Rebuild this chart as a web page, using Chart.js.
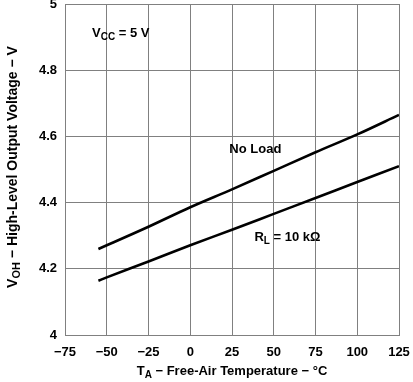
<!DOCTYPE html>
<html>
<head>
<meta charset="utf-8">
<script src="https://cdn.jsdelivr.net/npm/chart.js@4.4.1/dist/chart.umd.min.js"></script>
<style>
  html, body { margin: 0; padding: 0; background: #fff; }
  #wrap { width: 413px; height: 382px; }
</style>
</head>
<body>
<div id="wrap"><canvas id="voh-chart" width="413" height="382"></canvas></div>
<script>
// temperature points (°C)
const temps = [-55, -50, -25, 0, 25, 50, 75, 100, 125];
// V_OH, no load
const noLoad = [4.26, 4.271, 4.327, 4.386, 4.44, 4.496, 4.552, 4.606, 4.665];
// V_OH, RL = 10 kOhm
const rl10k = [4.164, 4.174, 4.222, 4.271, 4.318, 4.366, 4.414, 4.462, 4.51];

const xTicks = [-75, -50, -25, 0, 25, 50, 75, 100, 125];
const yTicks = [4, 4.2, 4.4, 4.6, 4.8, 5];

// text labels inside the plot: [main, subscript, rest, x, y]
const notes = [
    ['V', 'CC', ' = 5 V', -58.8, 4.912],
    ['No Load', '', '', 23.4, 4.562],
    ['R', 'L', ' = 10 k\u03A9', 38.4, 4.295]
];

const FAMILY = '"Liberation Sans", Arial, sans-serif';

function toPts(ys) {
    return temps.map((t, i) => ({ x: t, y: ys[i] }));
}

// draws "main" + subscript + "rest" starting at x, vertically centred on y
function drawSubText(ctx, parts, x, y, size) {
    const big = 'bold ' + size + 'px ' + FAMILY;
    const small = 'bold ' + Math.round(size * 0.75) + 'px ' + FAMILY;
    ctx.textBaseline = 'middle';
    ctx.textAlign = 'left';
    ctx.font = big;
    ctx.fillText(parts[0], x, y);
    let w = ctx.measureText(parts[0]).width;
    if (parts[1]) {
        ctx.font = small;
        ctx.fillText(parts[1], x + w, y + size * 0.3);
        w += ctx.measureText(parts[1]).width;
    }
    ctx.font = big;
    ctx.fillText(parts[2], x + w, y);
}

function widthOf(ctx, parts, size) {
    ctx.font = 'bold ' + size + 'px ' + FAMILY;
    let w = ctx.measureText(parts[0]).width + ctx.measureText(parts[2]).width;
    ctx.font = 'bold ' + Math.round(size * 0.75) + 'px ' + FAMILY;
    if (parts[1]) w += ctx.measureText(parts[1]).width;
    return w;
}

const labelsPlugin = {
    id: 'labels',
    afterDraw(chart) {
        const ctx = chart.ctx;
        const xs = chart.scales.x, ys = chart.scales.y;
        const area = chart.chartArea;
        ctx.save();
        ctx.fillStyle = '#000';

        notes.forEach(n => {
            drawSubText(ctx, n, xs.getPixelForValue(n[3]), ys.getPixelForValue(n[4]), 13);
        });

        // x axis title
        const xt = ['T', 'A', ' \u2212 Free-Air Temperature \u2212 \u00B0C'];
        const xw = widthOf(ctx, xt, 13);
        drawSubText(ctx, xt, (area.left + area.right) / 2 - xw / 2, 371, 13);

        // y axis title, rotated
        const yt = ['V', 'OH', ' \u2212 High-Level Output Voltage \u2212 V'];
        const yw = widthOf(ctx, yt, 14);
        ctx.translate(13, 167);
        ctx.rotate(-Math.PI / 2);
        drawSubText(ctx, yt, -yw / 2, 0, 14);
        ctx.restore();
    }
};

new Chart(document.getElementById('voh-chart'), {
    type: 'line',
    data: {
        datasets: [
            { label: 'No Load', data: toPts(noLoad) },
            { label: 'RL = 10 k', data: toPts(rl10k) }
        ]
    },
    options: {
        responsive: false,
        animation: false,
        layout: { padding: { top: 4, right: 14, left: 0, bottom: 0 } },
        elements: {
            line: { borderColor: '#000', borderWidth: 2.6, cubicInterpolationMode: 'monotone' },
            point: { radius: 0 }
        },
        plugins: {
            legend: { display: false },
            tooltip: { enabled: false }
        },
        scales: {
            x: {
                type: 'linear',
                min: -75,
                max: 125,
                afterBuildTicks: s => { s.ticks = xTicks.map(v => ({ value: v })); },
                afterFit: s => { s.height = 47; s.paddingLeft = 0; s.paddingRight = 0; },
                grid: { color: '#808080', lineWidth: 1, drawTicks: false },
                border: { color: '#808080' },
                ticks: {
                    color: '#000',
                    padding: 10,
                    maxRotation: 0,
                    font: { family: FAMILY, size: 13, weight: 'bold' },
                    callback: v => String(v).replace('-', '\u2212')
                }
            },
            y: {
                type: 'linear',
                min: 4,
                max: 5,
                afterBuildTicks: s => { s.ticks = yTicks.map(v => ({ value: v })); },
                afterFit: s => { s.width = 65; s.paddingTop = 0; s.paddingBottom = 0; },
                grid: { color: '#808080', lineWidth: 1, drawTicks: false },
                border: { color: '#808080' },
                ticks: {
                    color: '#000',
                    padding: 8,
                    font: { family: FAMILY, size: 13, weight: 'bold' },
                    callback: v => String(v)
                }
            }
        }
    },
    plugins: [labelsPlugin]
});
</script>
</body>
</html>
